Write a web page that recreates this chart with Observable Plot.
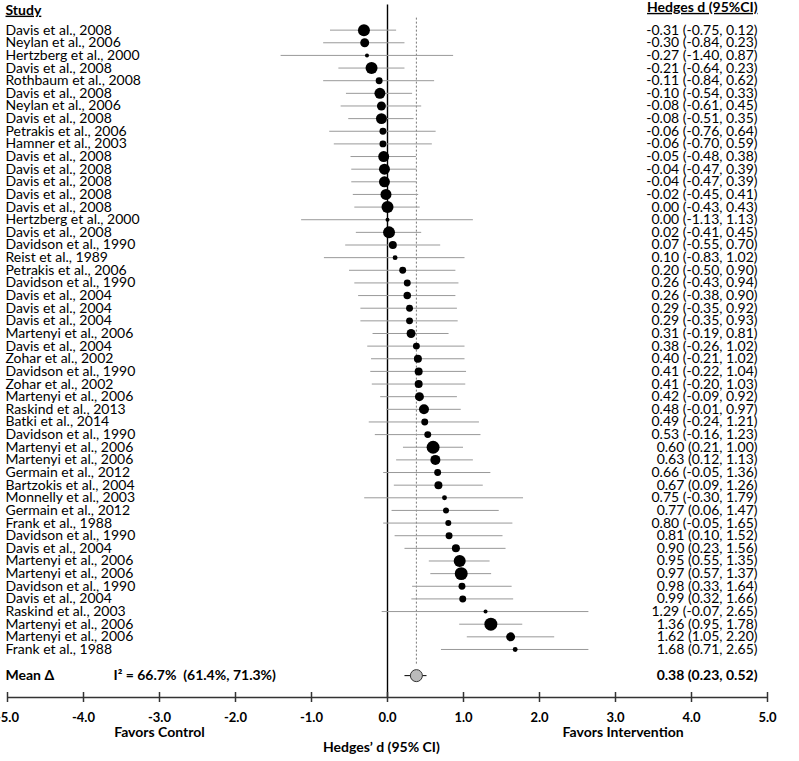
<!DOCTYPE html>
<html>
<head>
<meta charset="utf-8">
<script src="https://cdn.jsdelivr.net/npm/d3@7"></script>
<script src="https://cdn.jsdelivr.net/npm/@observablehq/plot@0.6"></script>
<style>
  body { margin: 0; background: #fff; }
</style>
</head>
<body>
<div id="chart"></div>
<script>
// Individual study effects (Hedges' d with 95% CI), sorted by effect size
const studies = [
  "Davis et al., 2008", "Neylan et al., 2006", "Hertzberg et al., 2000", "Davis et al., 2008",
  "Rothbaum et al., 2008", "Davis et al., 2008", "Neylan et al., 2006", "Davis et al., 2008",
  "Petrakis et al., 2006", "Hamner et al., 2003", "Davis et al., 2008", "Davis et al., 2008",
  "Davis et al., 2008", "Davis et al., 2008", "Davis et al., 2008", "Hertzberg et al., 2000",
  "Davis et al., 2008", "Davidson et al., 1990", "Reist et al., 1989", "Petrakis et al., 2006",
  "Davidson et al., 1990", "Davis et al., 2004", "Davis et al., 2004", "Davis et al., 2004",
  "Martenyi et al., 2006", "Davis et al., 2004", "Zohar et al., 2002", "Davidson et al., 1990",
  "Zohar et al., 2002", "Martenyi et al., 2006", "Raskind et al., 2013", "Batki et al., 2014",
  "Davidson et al., 1990", "Martenyi et al., 2006", "Martenyi et al., 2006", "Germain et al., 2012",
  "Bartzokis et al., 2004", "Monnelly et al., 2003", "Germain et al., 2012", "Frank et al., 1988",
  "Davidson et al., 1990", "Davis et al., 2004", "Martenyi et al., 2006", "Martenyi et al., 2006",
  "Davidson et al., 1990", "Davis et al., 2004", "Raskind et al., 2003", "Martenyi et al., 2006",
  "Martenyi et al., 2006", "Frank et al., 1988"
];
const hedges = [
  -0.31, -0.30, -0.27, -0.21, -0.11, -0.10, -0.08, -0.08, -0.06, -0.06,
  -0.05, -0.04, -0.04, -0.02, 0.00, 0.00, 0.02, 0.07, 0.10, 0.20,
  0.26, 0.26, 0.29, 0.29, 0.31, 0.38, 0.40, 0.41, 0.41, 0.42,
  0.48, 0.49, 0.53, 0.60, 0.63, 0.66, 0.67, 0.75, 0.77, 0.80,
  0.81, 0.90, 0.95, 0.97, 0.98, 0.99, 1.29, 1.36, 1.62, 1.68
];
const ciLow = [
  -0.75, -0.84, -1.40, -0.64, -0.84, -0.54, -0.61, -0.51, -0.76, -0.70,
  -0.48, -0.47, -0.47, -0.45, -0.43, -1.13, -0.41, -0.55, -0.83, -0.50,
  -0.43, -0.38, -0.35, -0.35, -0.19, -0.26, -0.21, -0.22, -0.20, -0.09,
  -0.01, -0.24, -0.16, 0.21, 0.12, -0.05, 0.09, -0.30, 0.06, -0.05,
  0.10, 0.23, 0.55, 0.57, 0.33, 0.32, -0.07, 0.95, 1.05, 0.71
];
const ciHigh = [
  0.12, 0.23, 0.87, 0.23, 0.62, 0.33, 0.45, 0.35, 0.64, 0.59,
  0.38, 0.39, 0.39, 0.41, 0.43, 1.13, 0.45, 0.70, 1.02, 0.90,
  0.94, 0.90, 0.92, 0.93, 0.81, 1.02, 1.02, 1.04, 1.03, 0.92,
  0.97, 1.21, 1.23, 1.00, 1.13, 1.36, 1.26, 1.79, 1.47, 1.65,
  1.52, 1.56, 1.35, 1.37, 1.64, 1.66, 2.65, 1.78, 2.20, 2.65
];
// Relative study weights (marker area)
const weights = [
  36, 20, 4, 36, 12, 30, 20, 30, 12, 12,
  30, 30, 30, 30, 36, 4, 36, 16, 6, 12,
  12, 14, 12, 12, 20, 12, 16, 16, 16, 20,
  25, 12, 12, 42, 25, 12, 16, 6, 9, 9,
  12, 16, 36, 42, 12, 12, 4, 42, 20, 6
];

// Pooled estimate and heterogeneity
const pooledD = 0.38, pooledLow = 0.23, pooledHigh = 0.52;
const iSquared = 66.7, iSquaredLow = 61.4, iSquaredHigh = 71.3;

const xTicks = [-5, -4, -3, -2, -1, 0, 1, 2, 3, 4, 5];
const sideLabels = [
  {x: -3, text: "Favors Control"},
  {x: 3.1, text: "Favors Intervention"}
];

const fmt = v => v.toFixed(2);
const rows = studies.map((study, i) => ({
  study, d: hedges[i], lo: ciLow[i], hi: ciHigh[i], w: weights[i], row: i + 1
}));
const pooled = [{d: pooledD, lo: pooledLow, hi: pooledHigh}];

const meanRow = rows.length + 2.07;
const axisRow = 53.8;

const chart = Plot.plot({
  width: 799,
  height: 761,
  marginLeft: 7,
  marginRight: 32,
  marginTop: 17,
  marginBottom: 64,
  x: {domain: [-5, 5], axis: null},
  y: {domain: [0, axisRow], reverse: true, axis: null},
  r: {type: "sqrt", domain: [0, 49], range: [0, 7]},
  style: {fontFamily: "Lato, sans-serif", fontSize: "14px", color: "#000", background: "#fff"},
  marks: [
    // line of no effect and pooled-effect reference
    Plot.ruleX([0], {y1: -0.98, y2: axisRow, stroke: "#000", strokeWidth: 1.4}),
    Plot.ruleX([pooledD], {y1: 0.05, y2: 51.2, stroke: "#555", strokeWidth: 0.8, strokeDasharray: "2,2"}),
    // confidence intervals and point estimates
    Plot.ruleY(rows, {y: "row", x1: "lo", x2: "hi", stroke: "#999", strokeWidth: 1}),
    Plot.dot(rows, {x: "d", y: "row", r: "w", fill: "#000"}),
    // pooled estimate
    Plot.ruleY(pooled, {y: meanRow, x1: "lo", x2: "hi", stroke: "#000", strokeWidth: 1}),
    Plot.dot(pooled, {x: "d", y: meanRow, r: 6, fill: "#bbb", stroke: "#333", strokeWidth: 1}),
    // x axis with crossing ticks
    Plot.ruleY([axisRow], {x1: -5, x2: 5, stroke: "#333", strokeWidth: 1.5}),
    Plot.ruleX(xTicks, {x: d => d, y1: axisRow, y2: axisRow, insetTop: -5, insetBottom: -5, stroke: "#333", strokeWidth: 1.5}),
    Plot.text(xTicks, {x: d => d, y: axisRow, dy: 20, text: d => d.toFixed(1), fontWeight: "bold", fontSize: 13}),
    Plot.text(sideLabels, {x: "x", y: axisRow, dy: 35, text: "text", fontWeight: "bold", fontSize: 14}),
    Plot.text(["Hedges\u2019 d (95% CI)"], {x: -0.08, y: axisRow, dy: 50, text: d => d, fontWeight: "bold", fontSize: 14}),
    // study labels and effect labels
    Plot.text(rows, {y: "row", text: "study", frameAnchor: "left", textAnchor: "start", dx: -2, fontSize: 14}),
    Plot.text(rows, {y: "row", text: d => `${fmt(d.d)} (${fmt(d.lo)}, ${fmt(d.hi)})`, frameAnchor: "right", textAnchor: "end", dx: -10, fontSize: 14}),
    // column headers
    Plot.text(["Study"], {y: -0.58, text: d => d, frameAnchor: "left", textAnchor: "start", dx: -2, fontWeight: "bold", fontSize: 14}),
    Plot.text(["Hedges d (95%CI)"], {y: -0.8, text: d => d, frameAnchor: "right", textAnchor: "end", dx: -10, fontWeight: "bold", fontSize: 14}),
    // summary row
    Plot.text(["Mean \u0394"], {y: meanRow, text: d => d, frameAnchor: "left", textAnchor: "start", dx: -2, fontWeight: "bold", fontSize: 14}),
    Plot.text([`I\u00b2 = ${iSquared.toFixed(1)}%  (${iSquaredLow.toFixed(1)}%, ${iSquaredHigh.toFixed(1)}%)`],
      {y: meanRow, text: d => d, frameAnchor: "left", textAnchor: "start", dx: 106, fontWeight: "bold", fontSize: 14}),
    Plot.text(pooled, {y: meanRow, text: d => `${fmt(d.d)} (${fmt(d.lo)}, ${fmt(d.hi)})`, frameAnchor: "right", textAnchor: "end", dx: -10, fontWeight: "bold", fontSize: 14})
  ]
});

d3.select(chart).selectAll("text")
  .filter(function() { return this.textContent === "Study" || this.textContent === "Hedges d (95%CI)"; })
  .style("text-decoration", "underline");

document.getElementById("chart").appendChild(chart);
</script>
</body>
</html>
